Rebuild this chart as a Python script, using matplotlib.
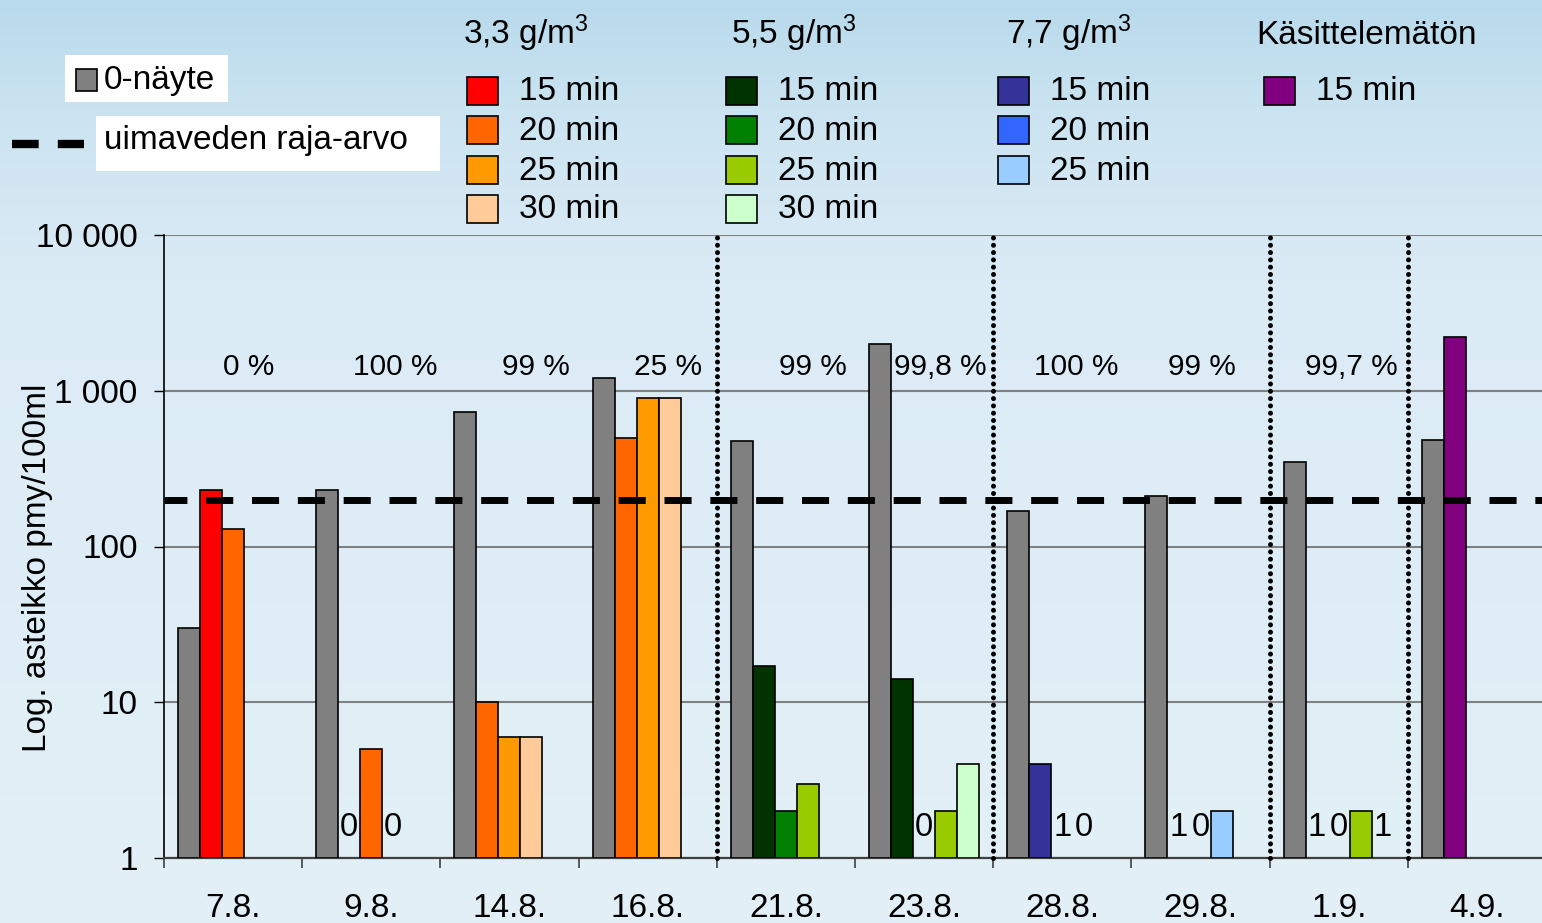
import numpy as np
import matplotlib
matplotlib.use('Agg')
import matplotlib.pyplot as plt
from matplotlib.patches import Rectangle
from matplotlib.lines import Line2D

plt.rcParams['font.family'] = ['Liberation Sans', 'DejaVu Sans']
plt.rcParams['mathtext.fontset'] = 'custom'
plt.rcParams['mathtext.rm'] = 'Liberation Sans'
plt.rcParams['mathtext.it'] = 'Liberation Sans'

W, H = 1542, 923

# sampling days and the untreated (0) sample
dates = ['7.8.', '9.8.', '14.8.', '16.8.', '21.8.', '23.8.', '28.8.', '29.8.', '1.9.', '4.9.']
zero_sample = [30, 230, 730, 1200, 475, 2000, 170, 210, 350, 480]

# dose used on each day and the treated samples (minutes, pmy/100ml)
dose = ['3,3', '3,3', '3,3', '3,3', '5,5', '5,5', '7,7', '7,7', '5,5', 'kas']
treat_times = [[15, 20], [15, 20, 25], [20, 25, 30], [20, 25, 30], [15, 20, 25],
               [15, 20, 25, 30], [15, 20, 25], [15, 20, 25], [15, 20, 25, 30], [15]]
treat_values = [[230, 130], [0, 5, 0], [10, 6, 6], [500, 900, 900], [17, 2, 3],
                [14, 0, 2, 4], [4, 1, 0], [1, 0, 2], [1, 0, 2, 1], [2200]]
reduction = ['0 %', '100 %', '99 %', '25 %', '99 %', '99,8 %', '100 %', '99 %', '99,7 %', '']
reduction_shift = [0.11, 0.17, 0.19, 0.145, 0.195, 0.12, 0.10, 0.01, 0.09, 0]
limit_value = 200

gray = '#808080'
palette = {
    '3,3': {15: '#FF0000', 20: '#FF6600', 25: '#FF9900', 30: '#FFCC99'},
    '5,5': {15: '#003300', 20: '#008000', 25: '#99CC00', 30: '#CCFFCC'},
    '7,7': {15: '#333399', 20: '#3366FF', 25: '#99CCFF'},
    'kas': {15: '#800080'},
}
headers = {'3,3': '3,3 g/m$^{3}$', '5,5': '5,5 g/m$^{3}$', '7,7': '7,7 g/m$^{3}$',
           'kas': 'Käsittelemätön'}

# layout helpers (pixel -> figure fraction)
def fx(px):
    return px / W

def fy(py):
    return 1 - py / H

fig = plt.figure(figsize=(W / 100, H / 100), dpi=100)

# sky-like background gradient
bg = fig.add_axes([0, 0, 1, 1], zorder=-10)
stops_y = [0, 120, 280, 923]
stops_c = np.array([[184, 218, 236], [204, 228, 241], [219, 235, 245], [227, 240, 247]]) / 255
yy = np.arange(H)
grad = np.stack([np.interp(yy, stops_y, stops_c[:, k]) for k in range(3)], axis=1)
bg.imshow(np.repeat(grad[:, None, :], 8, axis=1), aspect='auto', extent=[0, 1, 0, 1])
bg.axis('off')

ax = fig.add_axes([fx(164), fy(858), (1546 - 164) / W, (858 - 235) / H])
ax.set_facecolor('none')
ax.set_yscale('log')
ax.set_xlim(0, 10)
ax.set_ylim(1, 10000)

bw = 0.159
x0 = 0.102
for i in range(len(dates)):
    ax.bar(i + x0, zero_sample[i] - 1, bottom=1, width=bw, align='edge',
           color=gray, edgecolor='black', linewidth=1.2, zorder=3)
    for j, (t, v) in enumerate(zip(treat_times[i], treat_values[i])):
        left = i + x0 + (j + 1) * bw
        if v > 1:
            ax.bar(left, v - 1, bottom=1, width=bw, align='edge',
                   color=palette[dose[i]][t], edgecolor='black', linewidth=1.2, zorder=3)
        else:
            # zero-height bars on the log scale get their value written instead
            ax.annotate(str(v), (left + bw / 2, 1), xytext=(0, 15.5), textcoords='offset points',
                        ha='center', va='baseline', fontsize=23.5, zorder=5)
    if reduction[i]:
        ax.text(i + 0.5 + reduction_shift[i], 1420, reduction[i], ha='center', va='center',
                fontsize=21.5)

# separators between dose periods
for xv in [4, 6, 8, 9]:
    ax.plot([xv, xv], [1, 10000], color='black', lw=3.6, linestyle=(0, (0.01, 1.45)),
            dash_capstyle='round', zorder=4, clip_on=False)

# bathing water limit
ax.axhline(limit_value, color='black', lw=5, linestyle=(0.6, (3.9, 2.7)), zorder=4)

ax.set_yticks([1, 10, 100, 1000, 10000])
ax.set_yticklabels(['1', '10', '100', '1 000', '10 000'])
ax.yaxis.set_minor_locator(matplotlib.ticker.NullLocator())
ax.tick_params(axis='y', which='major', length=7, width=1, pad=12, labelsize=24)
ax.yaxis.grid(True, color='#808080', lw=1.5, zorder=0)

ax.set_xticks(np.arange(11))
ax.set_xticklabels([])
ax.set_xticks(np.arange(10) + 0.5, minor=True)
ax.set_xticklabels(dates, minor=True)
ax.tick_params(axis='x', which='major', length=7, width=1.2, color='#404040')
ax.tick_params(axis='x', which='minor', length=0, pad=25, labelsize=24)

for s in ['top', 'right']:
    ax.spines[s].set_visible(False)
ax.spines['left'].set_color('black')
ax.spines['left'].set_linewidth(1.2)
ax.spines['bottom'].set_color('#404040')
ax.spines['bottom'].set_linewidth(1.6)

fig.text(fx(38), fy(568), 'Log. asteikko pmy/100ml', rotation=90, ha='center', va='center',
         fontsize=24)

# legend for the treatments
col_box_x = {'3,3': 467, '5,5': 726, '7,7': 998, 'kas': 1264}
col_head_x = {'3,3': 463, '5,5': 731, '7,7': 1006, 'kas': 1256}
row_y = [91, 130, 170, 209]
for key, cols in palette.items():
    fig.text(fx(col_head_x[key]), fy(44), headers[key], ha='left', va='baseline', fontsize=24)
    for r, t in enumerate(cols):
        bx = col_box_x[key]
        fig.patches.append(Rectangle((fx(bx), fy(row_y[r] + 14)), 31 / W, 28 / H,
                                     transform=fig.transFigure, facecolor=cols[t],
                                     edgecolor='black', lw=1.2))
        fig.text(fx(bx + 52), fy(row_y[r] + 1), f'{t} min', ha='left', va='center', fontsize=24)

# 0-sample and limit legend
fig.patches.append(Rectangle((fx(65), fy(102)), 163 / W, 47 / H, transform=fig.transFigure,
                             facecolor='white', edgecolor='none'))
fig.patches.append(Rectangle((fx(76), fy(91)), 21 / W, 22 / H, transform=fig.transFigure,
                             facecolor=gray, edgecolor='black', lw=1.2))
fig.text(fx(104), fy(80), '0-näyte', ha='left', va='center', fontsize=24)
fig.patches.append(Rectangle((fx(96), fy(171)), 344 / W, 55 / H, transform=fig.transFigure,
                             facecolor='white', edgecolor='none'))
fig.lines.append(Line2D([fx(12), fx(84)], [fy(144), fy(144)], transform=fig.transFigure,
                        color='black', lw=6, linestyle=(0, (3.2, 2.3))))
fig.text(fx(104), fy(141), 'uimaveden raja-arvo', ha='left', va='center', fontsize=24)

fig.savefig('out.png', dpi=100)
